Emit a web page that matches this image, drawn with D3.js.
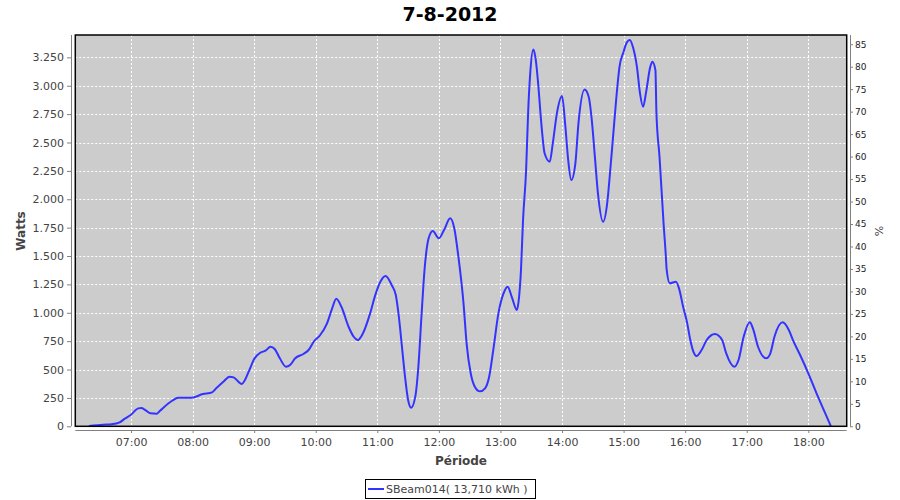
<!DOCTYPE html>
<html>
<head>
<meta charset="utf-8">
<script src="https://cdn.jsdelivr.net/npm/d3@7"></script>
<style>
  html, body { margin: 0; padding: 0; background: #ffffff; }
  svg { display: block; }
</style>
</head>
<body>
<svg id="chart" width="900" height="500"></svg>
<script>
// ---- data ----
const chartTitle = "7-8-2012";
const seriesName = "SBeam014( 13,710 kWh )";
const times = ["06:19","06:33","06:41","06:49","06:54","07:00","07:07","07:10","07:14","07:19","07:25","07:28","07:40","07:46","07:59","08:10","08:19","08:23","08:30","08:36","08:40","08:48","08:51","08:56","09:00","09:06","09:11","09:16","09:20","09:25","09:31","09:35","09:40","09:48","09:53","09:58","10:04","10:11","10:16","10:20","10:25","10:32","10:37","10:41","10:46","10:53","10:58","11:03","11:08","11:14","11:18","11:21","11:24","11:27","11:30","11:33","11:37","11:40","11:43","11:46","11:50","11:54","12:00","12:05","12:11","12:15","12:19","12:24","12:27","12:31","12:35","12:40","12:45","12:49","12:53","12:58","13:03","13:07","13:11","13:16","13:18","13:20","13:22","13:25","13:27","13:29","13:32","13:34","13:37","13:39","13:41","13:43","13:48","13:51","13:55","14:00","14:03","14:06","14:09","14:13","14:16","14:22","14:26","14:29","14:32","14:35","14:40","14:44","14:47","14:50","14:53","14:56","15:00","15:03","15:06","15:09","15:13","15:16","15:19","15:22","15:26","15:28","15:31","15:32","15:35","15:39","15:41","15:42","15:45","15:51","15:54","15:58","16:02","16:05","16:08","16:11","16:16","16:21","16:29","16:36","16:40","16:48","16:52","16:57","17:03","17:06","17:11","17:19","17:23","17:27","17:35","17:41","17:45","17:52","18:00","18:08","18:15","18:22"];
const watts = [3,14,18,35,67,102,158,161,143,114,111,135,225,252,252,284,299,335,393,437,431,372,408,511,593,648,666,701,681,599,525,540,599,637,672,745,800,907,1039,1124,1053,877,789,760,819,995,1156,1274,1324,1245,1156,965,701,437,232,164,261,525,965,1377,1656,1720,1656,1729,1832,1744,1494,1083,731,467,349,308,335,437,672,995,1171,1230,1141,1024,1127,1377,1817,2258,2771,3109,3320,3255,2991,2757,2551,2405,2331,2493,2757,2909,2669,2346,2169,2316,2669,2968,2903,2698,2375,2052,1802,1964,2258,2581,2903,3167,3300,3379,3403,3344,3167,2933,2815,2948,3167,3211,3138,2757,2375,1780,1524,1377,1260,1274,1215,1053,907,760,657,619,672,760,813,760,643,525,584,789,916,863,701,599,643,789,916,848,760,628,467,291,144,0];
const wattTicks = [0,250,500,750,1000,1250,1500,1750,2000,2250,2500,2750,3000,3250];
const percentTicks = [0,5,10,15,20,25,30,35,40,45,50,55,60,65,70,75,80,85];
const hourTicks = ["07:00","08:00","09:00","10:00","11:00","12:00","13:00","14:00","15:00","16:00","17:00","18:00"];
const xDomain = ["06:05:42","18:37:24"];
const wattMax = 3447;
const percentMax = 87.05;

// ---- helpers ----
const parseT = d3.timeParse("%Y-%m-%d %H:%M");
const parseTs = d3.timeParse("%Y-%m-%d %H:%M:%S");
const day = "2012-08-07";
const data = times.map((t, i) => ({ t: parseT(day + " " + t), w: watts[i] }));

const plot = { left: 75.3, right: 846.7, top: 35, bottom: 426.3 };

const x = d3.scaleTime()
  .domain(xDomain.map(s => parseTs(day + " " + s)))
  .range([plot.left, plot.right]);
const y = d3.scaleLinear().domain([0, wattMax]).range([plot.bottom, plot.top]);
const yR = d3.scaleLinear().domain([0, percentMax]).range([plot.bottom, plot.top]);

const locale = d3.formatLocale({ decimal: ",", thousands: ".", grouping: [3], currency: ["", "€"] });
const fmtW = locale.format(",d");
const fmtH = d3.timeFormat("%H:%M");
const hourDates = hourTicks.map(h => parseT(day + " " + h));

const svg = d3.select("#chart");
const font = "'DejaVu Sans', sans-serif";

// title
svg.append("text")
  .attr("x", 450).attr("y", 21)
  .attr("text-anchor", "middle")
  .style("font-family", font).style("font-size", "19px").style("font-weight", "bold")
  .attr("fill", "#000")
  .text(chartTitle);

// plot background
svg.append("rect")
  .attr("x", plot.left).attr("y", plot.top)
  .attr("width", plot.right - plot.left).attr("height", plot.bottom - plot.top)
  .attr("fill", "#cccccc");

// gridlines
const grid = svg.append("g").attr("stroke", "#ffffff").attr("stroke-width", 1).attr("stroke-dasharray", "2,2");
grid.selectAll("line.h").data(wattTicks.filter(d => d > 0)).join("line")
  .attr("x1", plot.left).attr("x2", plot.right)
  .attr("y1", d => Math.round(y(d)) + 0.5).attr("y2", d => Math.round(y(d)) + 0.5);
grid.selectAll("line.v").data(hourDates).join("line")
  .attr("x1", d => Math.round(x(d)) + 0.5).attr("x2", d => Math.round(x(d)) + 0.5)
  .attr("y1", plot.top).attr("y2", plot.bottom);

// line
const line = d3.line().x(d => x(d.t)).y(d => y(d.w)).curve(d3.curveMonotoneX);
svg.append("path").datum(data)
  .attr("d", line)
  .attr("fill", "none").attr("stroke", "#3333ff").attr("stroke-width", 2)
  .attr("stroke-linejoin", "round");

// plot outline
svg.append("rect")
  .attr("x", plot.left).attr("y", plot.top)
  .attr("width", plot.right - plot.left).attr("height", plot.bottom - plot.top)
  .attr("fill", "none").attr("stroke", "#000").attr("stroke-width", 1.5);

// left axis
const gL = svg.append("g").attr("transform", "translate(71,0)")
  .call(d3.axisLeft(y).tickValues(wattTicks).tickFormat(fmtW).tickSize(4).tickPadding(3).tickSizeOuter(0));
gL.select(".domain").attr("stroke", "#808080").attr("d", `M0.5,${plot.top}V${plot.bottom}`);
gL.selectAll(".tick line").attr("stroke", "#808080");
gL.selectAll("text").style("font-family", font).style("font-size", "11px").attr("fill", "#444");

// right axis
const gR = svg.append("g").attr("transform", "translate(850,0)")
  .call(d3.axisRight(yR).tickValues(percentTicks).tickFormat(d3.format("d")).tickSize(3).tickPadding(2).tickSizeOuter(0));
gR.select(".domain").attr("stroke", "#808080").attr("d", `M0.5,${plot.top}V${plot.bottom}`);
gR.selectAll(".tick line").attr("stroke", "#808080");
gR.selectAll("text").style("font-family", font).style("font-size", "9px").attr("fill", "#222");

// bottom axis
const gB = svg.append("g").attr("transform", "translate(0,430)")
  .call(d3.axisBottom(x).tickValues(hourDates).tickFormat(fmtH).tickSize(3).tickPadding(5).tickSizeOuter(0));
gB.select(".domain").attr("stroke", "#808080").attr("d", `M${plot.left},0.5H${plot.right}`);
gB.selectAll(".tick line").attr("stroke", "#808080");
gB.selectAll("text").style("font-family", font).style("font-size", "11px").attr("fill", "#444");

// axis labels
svg.append("text")
  .attr("transform", "translate(25,231) rotate(-90)")
  .attr("text-anchor", "middle")
  .style("font-family", font).style("font-size", "12px").style("font-weight", "bold")
  .attr("fill", "#444").text("Watts");
svg.append("text")
  .attr("x", (plot.left + plot.right) / 2).attr("y", 465)
  .attr("text-anchor", "middle")
  .style("font-family", font).style("font-size", "12px").style("font-weight", "bold")
  .attr("fill", "#444").text("Période");
svg.append("text")
  .attr("transform", "translate(883,231) rotate(-90)")
  .attr("text-anchor", "middle")
  .style("font-family", font).style("font-size", "11px")
  .attr("fill", "#444").text("%");

// legend
const lg = svg.append("g");
lg.append("rect").attr("x", 365.5).attr("y", 479.5).attr("width", 170).attr("height", 19)
  .attr("fill", "#fff").attr("stroke", "#000").attr("stroke-width", 1);
lg.append("line").attr("x1", 368).attr("x2", 384).attr("y1", 489).attr("y2", 489)
  .attr("stroke", "#3333ff").attr("stroke-width", 2);
lg.append("text").attr("x", 386).attr("y", 493)
  .style("font-family", font).style("font-size", "11px")
  .attr("fill", "#444").text(seriesName);
</script>
</body>
</html>
